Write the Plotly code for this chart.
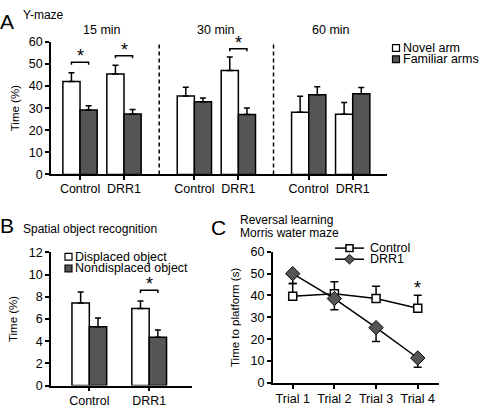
import plotly.graph_objects as go

# ---------------- Data ----------------
# Panel A: Y-maze
a_periods = ["15 min", "30 min", "60 min"]
a_groups = ["Control", "DRR1"]
a_novel = [42.0, 45.4, 35.5, 47.0, 28.1, 27.2]
a_novel_err = [4.0, 4.0, 3.9, 6.1, 7.3, 5.3]
a_familiar = [29.1, 27.4, 32.9, 27.1, 36.1, 36.5]
a_familiar_err = [2.0, 2.0, 1.7, 3.0, 3.6, 2.8]
a_sig_index = [0, 1, 3]
a_sig_level = [50.8, 53.7, 56.9]
a_yticks = [0, 10, 20, 30, 40, 50, 60]

# Panel B: Spatial object recognition
b_groups = ["Control", "DRR1"]
b_displaced = [7.44, 6.95]
b_displaced_err = [1.0, 0.67]
b_nondisplaced = [5.29, 4.36]
b_nondisplaced_err = [0.8, 0.64]
b_sig_index = [1]
b_sig_level = [8.58]
b_yticks = [0, 2, 4, 6, 8, 10, 12]

# Panel C: Reversal learning
c_trials = ["Trial 1", "Trial 2", "Trial 3", "Trial 4"]
c_control = [39.7, 40.8, 38.6, 34.2]
c_control_err = [5.8, 5.5, 5.6, 5.9]
c_drr1 = [50.0, 38.6, 25.3, 11.4]
c_drr1_err = [4.5, 5.1, 6.3, 4.2]
c_sig_index = [3]
c_yticks = [0, 10, 20, 30, 40, 50, 60]

# ---------------- Style ----------------
FONT = "Liberation Sans, Arial, sans-serif"
DARK = "#555555"
W, H = 480, 416
TICK_SIZE = 12.5
TITLE_SIZE = 11.5


def px(x):
    return x / W


def py(y):
    return 1 - y / H


fig = go.Figure()

# ---------- Panel A ----------
GAP = 2.6
a_pos = [p * GAP + g for p in range(len(a_periods)) for g in range(len(a_groups))]
a_ticktext = a_groups * len(a_periods)
BW_A = 0.39

common_bar = dict(marker_line_color="black", marker_line_width=1.5, showlegend=False)


def err(up, down=None):
    return dict(type="data", array=up, arrayminus=down if down is not None else [0] * len(up),
                symmetric=False, color="black", thickness=1.5, width=3, visible=True)


fig.add_trace(go.Bar(x=a_pos, y=a_novel, width=BW_A, offset=-BW_A, marker_color="white",
                     error_y=err(a_novel_err), xaxis="x", yaxis="y", name="Novel arm", **common_bar))
fig.add_trace(go.Bar(x=a_pos, y=a_familiar, width=BW_A, offset=0, marker_color=DARK,
                     error_y=err(a_familiar_err), xaxis="x", yaxis="y", name="Familiar arms", **common_bar))

annotations = []
shapes = []
STAR = dict(size=18, family=FONT, color="black")

DROP_A = 1.2
for i, lvl in zip(a_sig_index, a_sig_level):
    x1 = a_pos[i] - BW_A / 2
    x2 = a_pos[i] + BW_A / 2
    fig.add_trace(go.Scatter(x=[x1, x1, x2, x2], y=[lvl - DROP_A, lvl, lvl, lvl - DROP_A], mode="lines",
                             line=dict(color="black", width=1.5), showlegend=False, hoverinfo="skip",
                             xaxis="x", yaxis="y"))
    annotations.append(dict(x=a_pos[i], y=lvl, xref="x", yref="y", text="*", showarrow=False,
                            yanchor="bottom", yshift=-6, font=STAR))

# dashed separators between time periods (midpoints)
for p in range(len(a_periods) - 1):
    xm = (a_pos[2 * p + 1] + a_pos[2 * p + 2]) / 2
    shapes.append(dict(type="line", xref="x", yref="y", x0=xm, x1=xm, y0=0, y1=60,
                       line=dict(color="black", width=1.5, dash="4px,3px")))

# period titles
for p, name in enumerate(a_periods):
    xc = (a_pos[2 * p] + a_pos[2 * p + 1]) / 2
    annotations.append(dict(x=xc, y=py(24), xref="x", yref="paper", text=name, showarrow=False,
                            yanchor="middle", font=dict(size=12.5, family=FONT, color="black")))

# ---------- Panel B ----------
b_pos = list(range(len(b_groups)))
BW_B = 0.29
fig.add_trace(go.Bar(x=b_pos, y=b_displaced, width=BW_B, offset=-BW_B, marker_color="white",
                     error_y=err(b_displaced_err), xaxis="x2", yaxis="y2", name="Displaced object", **common_bar))
fig.add_trace(go.Bar(x=b_pos, y=b_nondisplaced, width=BW_B, offset=0, marker_color=DARK,
                     error_y=err(b_nondisplaced_err), xaxis="x2", yaxis="y2", name="Nondisplaced object",
                     **common_bar))
DROP_B = 0.24
for i, lvl in zip(b_sig_index, b_sig_level):
    x1 = b_pos[i] - BW_B / 2
    x2 = b_pos[i] + BW_B / 2
    fig.add_trace(go.Scatter(x=[x1, x1, x2, x2], y=[lvl - DROP_B, lvl, lvl, lvl - DROP_B], mode="lines",
                             line=dict(color="black", width=1.5), showlegend=False, hoverinfo="skip",
                             xaxis="x2", yaxis="y2"))
    annotations.append(dict(x=b_pos[i], y=lvl, xref="x2", yref="y2", text="*", showarrow=False,
                            yanchor="bottom", yshift=-6, font=STAR))

# ---------- Panel C ----------
c_pos = list(range(len(c_trials)))
fig.add_trace(go.Scatter(x=c_pos, y=c_control, mode="lines+markers", name="Control",
                         line=dict(color="black", width=1.5),
                         marker=dict(symbol="square", size=8, color="white", line=dict(color="black", width=1.5)),
                         error_y=dict(type="data", array=c_control_err, arrayminus=[0] * 4, symmetric=False,
                                      color="black", thickness=1.5, width=4),
                         xaxis="x3", yaxis="y3", showlegend=False))
fig.add_trace(go.Scatter(x=c_pos, y=c_drr1, mode="lines+markers", name="DRR1",
                         line=dict(color="black", width=1.5),
                         marker=dict(symbol="diamond", size=11, color=DARK, line=dict(color="black", width=1)),
                         error_y=dict(type="data", array=[0] * 4, arrayminus=c_drr1_err, symmetric=False,
                                      color="black", thickness=1.5, width=4),
                         xaxis="x3", yaxis="y3", showlegend=False))
for i in c_sig_index:
    annotations.append(dict(x=c_pos[i], y=c_control[i] + c_control_err[i], xref="x3", yref="y3", text="*",
                            showarrow=False, yanchor="bottom", yshift=-5, font=STAR))

# ---------- Axes ----------
axis_common = dict(showline=True, linecolor="black", linewidth=1.5, ticks="outside", ticklen=4,
                   tickwidth=1.5, tickcolor="black", showgrid=False, zeroline=False,
                   tickfont=dict(size=TICK_SIZE, family=FONT, color="black"), fixedrange=True)
title_font = dict(size=TITLE_SIZE, family=FONT, color="black")

fig.update_layout(
    xaxis=dict(domain=[px(51), px(387)], range=[-0.66, 6.98], tickvals=a_pos, ticktext=a_ticktext,
               anchor="y", ticklabelstandoff=-2, **axis_common),
    yaxis=dict(domain=[py(173.3), py(36)], range=[0, 60], tickvals=a_yticks, anchor="x",
               title=dict(text="Time (%)", font=title_font, standoff=7), **axis_common),
    xaxis2=dict(domain=[px(51), px(191.7)], range=[-0.64, 1.71], tickvals=b_pos, ticktext=b_groups,
                anchor="y2", ticklabelstandoff=-1, **axis_common),
    yaxis2=dict(domain=[py(391.7), py(254)], range=[0, 12], tickvals=b_yticks, anchor="x2",
                title=dict(text="Time (%)", font=title_font, standoff=9), **axis_common),
    xaxis3=dict(domain=[px(272.7), px(439)], range=[-0.48, 3.51], tickvals=c_pos, ticktext=c_trials,
                anchor="y3", ticklabelstandoff=-1, **axis_common),
    yaxis3=dict(domain=[py(389), py(253.3)], range=[0, 60], tickvals=c_yticks, anchor="x3",
                title=dict(text="Time to platform (s)", font=title_font, standoff=9), **axis_common),
)


# ---------- Panel labels / titles ----------
def txt(x, y, s, size, xanchor="left", yanchor="middle"):
    annotations.append(dict(x=px(x), y=py(y), xref="paper", yref="paper", text=s, showarrow=False,
                            xanchor=xanchor, yanchor=yanchor, xshift=0,
                            font=dict(size=size, family=FONT, color="black")))


txt(-2, 14.5, "A", 21)
txt(21, 8.5, "Y-maze", 12)
txt(-2, 226, "B", 21)
txt(21, 229.5, "Spatial object recognition", 12)
txt(209, 228, "C", 21)
txt(238, 220.5, "Reversal learning", 12)
txt(238, 234, "Morris water maze", 12)


# ---------- Legends (drawn) ----------
def square(x0, yc, size, fill):
    shapes.append(dict(type="rect", xref="paper", yref="paper", x0=px(x0), x1=px(x0 + size),
                       y0=py(yc + size / 2), y1=py(yc - size / 2), fillcolor=fill,
                       line=dict(color="black", width=1.2)))


legend_a = [("Novel arm", "white", 42.5), ("Familiar arms", DARK, 54)]
for name, fill, yc in legend_a:
    square(392.5, yc, 7, fill)
    txt(400.5, yc, name, 12.5)

legend_b = [("Displaced object", "white", 258.5), ("Nondisplaced object", DARK, 270.5)]
for name, fill, yc in legend_b:
    square(65, yc, 7, fill)
    txt(73, yc, name, 12.5)

# Panel C legend: line + marker
for name, yc, kind in [("Control", 249.5, "square"), ("DRR1", 261, "diamond")]:
    shapes.append(dict(type="line", xref="paper", yref="paper", x0=px(335), x1=px(364), y0=py(yc), y1=py(yc),
                       line=dict(color="black", width=1.5)))
    cx = 349.5
    if kind == "square":
        shapes.append(dict(type="rect", xref="paper", yref="paper", x0=px(cx - 3.5), x1=px(cx + 3.5),
                           y0=py(yc + 3.5), y1=py(yc - 3.5), fillcolor="white",
                           line=dict(color="black", width=1.5)))
    else:
        r = 5
        path = "M {},{} L {},{} L {},{} L {},{} Z".format(px(cx - r), py(yc), px(cx), py(yc - r),
                                                          px(cx + r), py(yc), px(cx), py(yc + r))
        shapes.append(dict(type="path", xref="paper", yref="paper", path=path, fillcolor=DARK,
                           line=dict(color="black", width=1)))
    txt(367.5, yc, name, 12.5)

fig.update_layout(
    width=W, height=H, margin=dict(l=0, r=0, t=0, b=0),
    paper_bgcolor="white", plot_bgcolor="white",
    barmode="overlay", showlegend=False,
    annotations=annotations, shapes=shapes,
    font=dict(family=FONT, color="black"),
)

fig.write_html("out.html", config={"displayModeBar": False},
               post_script="document.body.style.margin='0';document.body.style.overflow='hidden';")
